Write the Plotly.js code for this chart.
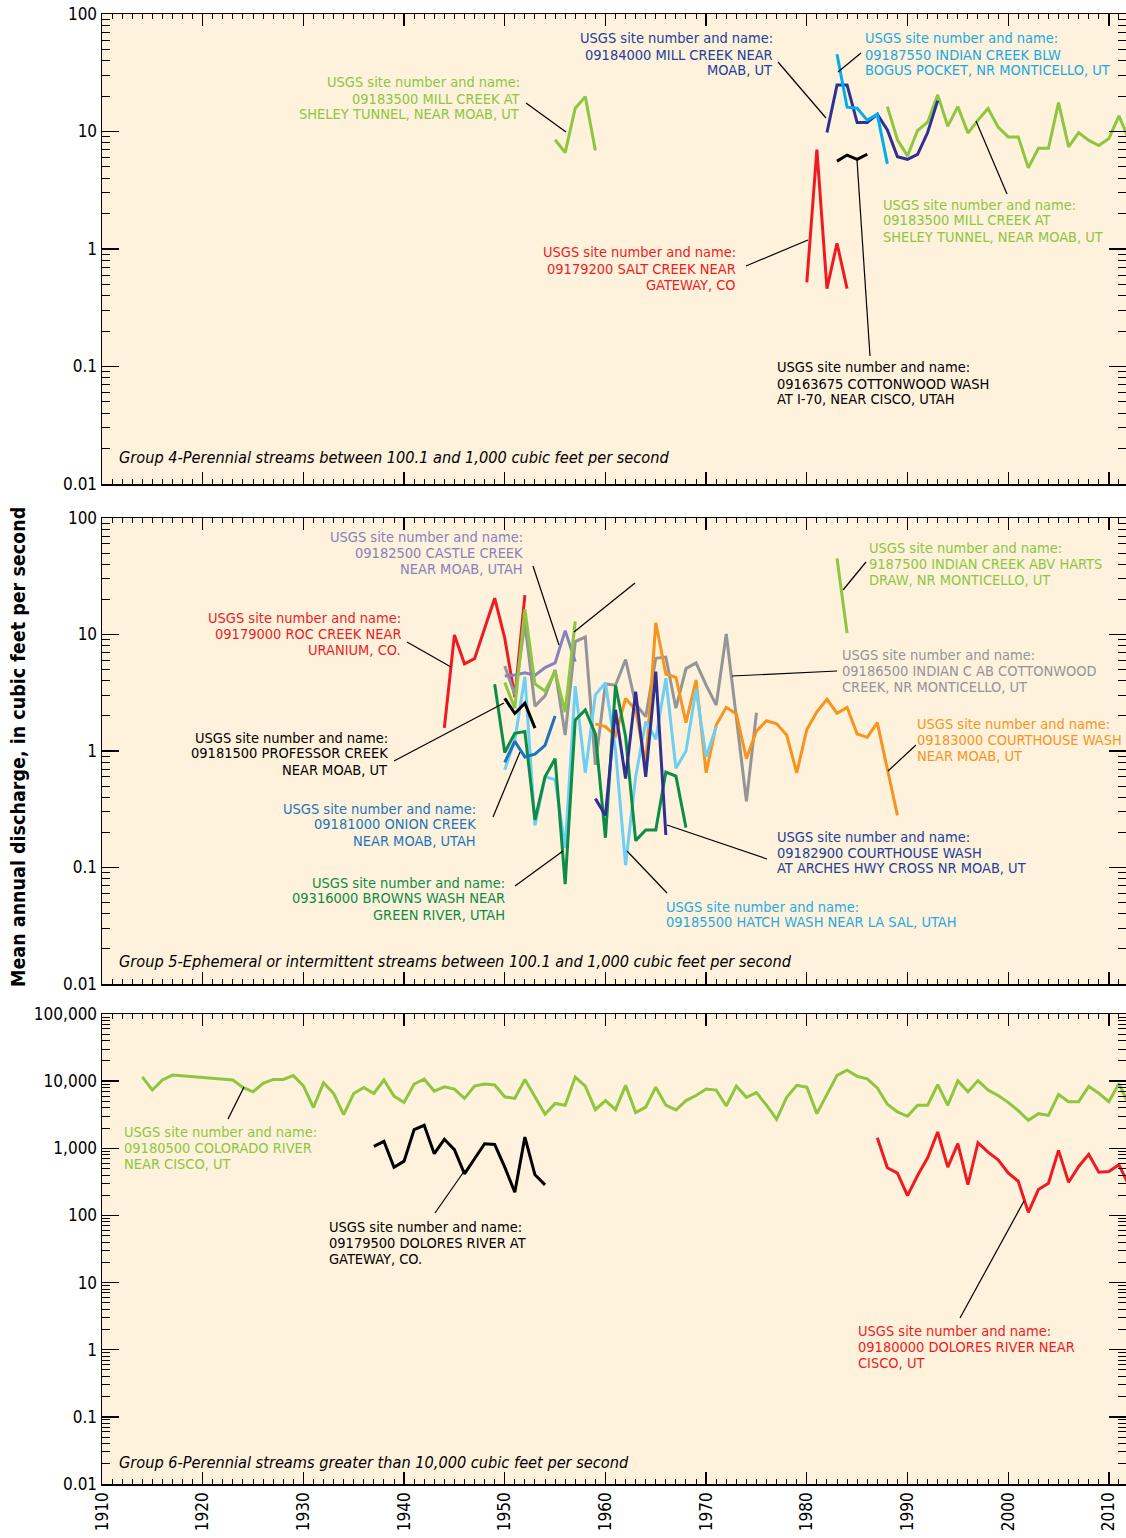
<!DOCTYPE html>
<html><head><meta charset="utf-8">
<script src="https://cdn.plot.ly/plotly-3.0.1.min.js"></script>
<style>html,body{margin:0;padding:0;background:#fff}#chart{width:1126px;height:1538px}</style>
</head><body><div id="chart"></div>
<script>
// ---------------- DATA ----------------
// Group 4 (top panel)
const millSheleyEarlyYears = [1955,1956,1957,1958,1959];
const millSheleyEarlyQ     = [8.5,6.6,15.8,19.8,6.9];
const millSheleyLateYears  = [1988,1989,1990,1991,1992,1993,1994,1995,1996,1997,1998,1999,2000,2001,2002,2003,2004,2005,2006,2007,2008,2009,2010,2011,2012];
const millSheleyLateQ      = [16.3,8.5,6.2,10.2,12.0,20.5,11.1,16.3,9.7,12.5,15.7,10.9,9.0,9.0,4.9,7.2,7.2,17.6,7.4,9.8,8.4,7.6,8.7,13.6,8.5];
const millMoabYears = [1982,1983,1984,1985,1986,1987,1988,1989,1990,1991,1992,1993];
const millMoabQ     = [9.8,24.9,24.9,11.9,11.9,14.0,10.3,6.1,5.8,6.4,9.8,18.3];
const indianBogusYears = [1983,1984,1985,1986,1987,1988];
const indianBogusQ     = [45.4,16.1,15.8,12.5,14.0,5.3];
const cottonwoodYears = [1983,1984,1985,1986];
const cottonwoodQ     = [5.6,6.3,5.8,6.4];
const saltCreekYears = [1980,1981,1982,1983,1984];
const saltCreekQ     = [0.52,7.0,0.46,1.12,0.46];

// Group 5 (middle panel)
const rocCreekYears = [1944,1945,1946,1947,1949,1950,1951,1952];
const rocCreekQ     = [1.58,9.9,5.6,6.2,20.5,9.3,2.9,21.8];
const professorYears = [1950,1951,1952,1953];
const professorQ     = [2.83,2.1,2.57,1.57];
const castleYears = [1950,1951,1952,1953,1954,1955,1956,1957];
const castleQ     = [4.4,4.5,4.7,4.45,5.2,5.7,10.8,5.85];
const greenUnlabeledYears = [1950,1951,1952,1953,1954,1955,1956,1957];
const greenUnlabeledQ     = [3.86,2.33,16.5,3.76,3.27,4.83,2.16,13.0];
const indianCottonwoodYears = [1950,1951,1952,1953,1954,1955,1956,1957,1958,1959,1960,1961,1962,1963,1964,1965,1966,1967,1968,1969,1970,1971,1972,1973,1974,1975];
const indianCottonwoodQ     = [5.37,3.03,12.5,2.43,2.97,4.96,1.37,8.7,9.5,0.76,3.76,3.67,6.1,2.53,1.97,6.25,6.4,2.33,5.1,5.7,3.67,2.48,10.1,1.85,0.37,2.13];
const courthouseYears = [1959,1960,1961,1962,1963,1964,1965,1966,1967,1968,1969,1970,1971,1972,1973,1974,1975,1976,1977,1978,1979,1980,1981,1982,1983,1984,1985,1986,1987,1989];
const courthouseQ     = [1.71,1.62,1.35,2.83,2.25,0.77,12.6,4.58,4.29,1.75,4.07,0.65,1.67,2.37,2.08,0.86,1.49,1.82,1.71,1.37,0.65,1.53,2.17,2.78,2.11,2.37,1.40,1.31,1.75,0.28];
const hatchYears = [1950,1951,1952,1953,1954,1955,1956,1957,1958,1959,1960,1961,1962,1963,1964,1965,1966,1967,1968,1969,1970,1971];
const hatchQ     = [0.69,1.24,4.34,0.23,0.60,0.57,0.147,3.61,0.65,3.03,3.86,1.02,0.105,0.60,1.79,1.26,4.21,0.71,1.0,3.40,0.89,1.62];
const brownsYears = [1949,1950,1951,1952,1953,1954,1955,1956,1957,1958,1959,1960,1961,1962,1963,1964,1965,1966,1967,1968];
const brownsQ     = [3.74,0.97,1.42,1.47,0.256,0.60,0.86,0.072,1.85,2.25,1.40,0.18,3.67,1.33,0.17,0.21,0.21,0.66,0.61,0.22];
const onionYears = [1950,1951,1952,1953,1954,1955];
const onionQ     = [0.80,1.21,0.89,0.94,1.12,2.0];
const archesYears = [1959,1960,1961,1962,1963,1964,1965,1966];
const archesQ     = [0.39,0.28,2.25,0.58,3.23,0.60,4.8,0.19];
const hartsYears = [1983,1984];
const hartsQ     = [45,10.3];

// Group 6 (bottom panel)
const coloradoYears = [1914,1915,1916,1917,1923,1924,1925,1926,1927,1928,1929,1930,1931,1932,1933,1934,1935,1936,1937,1938,1939,1940,1941,1942,1943,1944,1945,1946,1947,1948,1949,1950,1951,1952,1953,1954,1955,
 1956,1957,1958,1959,1960,1961,1962,1963,1964,1965,1966,1967,1968,1969,1970,1971,1972,1973,1974,1975,1976,1977,1978,1979,1980,1981,1982,1983,1984,1985,1986,1987,1988,1989,1990,1991,1992,1993,1994,1995,1996,1997,1998,1999,2000,2001,2002,2003,2004,2005,2006,2007,2008,2009,2010,2011,2012];
const coloradoQ = [11600,7360,10400,12300,10400,8070,6940,9270,10600,10600,12100,8530,4050,9460,6560,3180,6560,8070,6560,10400,5980,4820,9060,10700,7110,8240,7620,5530,8450,9060,8750,5840,5530,10600,5840,3220,4650,
 4380,11500,8450,3760,5140,3760,8650,3410,4110,8130,4380,3720,5140,6110,7640,7360,4270,8450,5740,6750,4380,2700,5740,8650,8130,3280,6340,12200,14600,11800,10800,7940,4540,3490,3000,4380,4380,8890,4380,10100,6920,10200,7360,6110,4830,3630,2600,3280,3090,6340,4950,4950,8340,6590,4950,9200,4400];
const doloresGatewayYears = [1937,1938,1939,1940,1941,1942,1943,1944,1945,1946,1947,1948,1949,1950,1951,1952,1953,1954];
const doloresGatewayQ     = [1070,1270,523,643,1900,2200,830,1360,953,417,698,1170,1140,523,221,1470,403,285];
const doloresCiscoYears = [1987,1988,1989,1990,1991,1992,1993,1994,1995,1996,1997,1998,1999,2000,2001,2002,2003,2004,2005,2006,2007,2008,2009,2010,2011,2012];
const doloresCiscoQ     = [1440,513,426,197,393,723,1750,523,1170,288,1210,877,675,431,323,111,243,301,931,312,536,811,441,451,568,278];

// tick labels
const yTickVals12 = [0.01,0.1,1,10,100];
const yTickText12 = ['0.01','0.1','1','10','100'];
const yTickVals3 = [0.01,0.1,1,10,100,1000,10000,100000];
const yTickText3 = ['0.01','0.1','1','10','100','1,000','10,000','100,000'];

// ---------------- STYLE / LAYOUT ----------------
const F = 'Liberation Sans Narrow, Arial Narrow, DejaVu Sans Condensed, sans-serif';
const C = {
  lgreen:'#8DC63F', red:'#ED1C24', navy:'#2E3192', cyan:'#00AEEF', black:'#000000',
  lav:'#8781BD', gray:'#939598', orange:'#F7941D', sky:'#6DCFF6', dgreen:'#0D8C45', blue:'#1C75BC',
  navyText:'#21409A', cyanText:'#1BA9E1', skyText:'#27AAE1'
};
const Lp=102, Rp=1126, Tp=14, Bp=1484;
const px = x => (x-Lp)/(Rp-Lp);
const py = y => (Bp-y)/(Bp-Tp);

function tr(x, y, color, n){
  const s = n===1 ? '' : String(n);
  return {x, y, type:'scatter', mode:'lines', line:{color, width:3}, xaxis:'x'+s, yaxis:'y'+s, hoverinfo:'skip', showlegend:false};
}
const data = [
  tr(millSheleyEarlyYears, millSheleyEarlyQ, C.lgreen, 1),
  tr(millSheleyLateYears, millSheleyLateQ, C.lgreen, 1),
  tr(millMoabYears, millMoabQ, C.navy, 1),
  tr(indianBogusYears, indianBogusQ, C.cyan, 1),
  tr(cottonwoodYears, cottonwoodQ, C.black, 1),
  tr(saltCreekYears, saltCreekQ, C.red, 1),

  tr(rocCreekYears, rocCreekQ, C.red, 2),
  tr(indianCottonwoodYears, indianCottonwoodQ, C.gray, 2),
  tr(courthouseYears, courthouseQ, C.orange, 2),
  tr(castleYears, castleQ, C.lav, 2),
  tr(greenUnlabeledYears, greenUnlabeledQ, C.lgreen, 2),
  tr(hatchYears, hatchQ, C.sky, 2),
  tr(brownsYears, brownsQ, C.dgreen, 2),
  tr(archesYears, archesQ, C.navy, 2),
  tr(onionYears, onionQ, C.blue, 2),
  tr(professorYears, professorQ, C.black, 2),
  tr(hartsYears, hartsQ, C.lgreen, 2),

  tr(coloradoYears, coloradoQ, C.lgreen, 3),
  tr(doloresGatewayYears, doloresGatewayQ, C.black, 3),
  tr(doloresCiscoYears, doloresCiscoQ, C.red, 3)
];

const tickFont = {family:F, size:17, color:'#000'};
function xax(anchor, labels){
  return {anchor, range:[1910,2011.7], showgrid:false, zeroline:false, showline:true, linecolor:'#000', linewidth:1.5,
    mirror:'ticks', ticks:'inside', ticklen:12, tickwidth:1.3, tickcolor:'#000', tickmode:'linear', tick0:1910, dtick:10,
    showticklabels:labels, tickangle:-90, tickfont:tickFont, fixedrange:true,
    minor:{ticks:'inside', ticklen:5, tickwidth:1, tickcolor:'#000', tick0:1910, dtick:1, showgrid:false}};
}
function yax(domain, anchor, range, vals, text){
  return {type:'log', domain, anchor, range, showgrid:false, zeroline:false, showline:true, linecolor:'#000', linewidth:1.5,
    mirror:'ticks', ticks:'inside', ticklen:17, tickwidth:1.3, tickcolor:'#000', tickmode:'array', tickvals:vals, ticktext:text,
    tickfont:tickFont, fixedrange:true,
    minor:{ticks:'inside', ticklen:8, tickwidth:1, tickcolor:'#000', dtick:'D1', showgrid:false}};
}

const ann = [];
const shapes = [];
function label(lines, x, y0, color, anchor){
  lines.forEach((t,i)=>ann.push({xref:'paper', yref:'paper', x:px(x), y:py(y0+i*16), text:t, showarrow:false,
    xanchor:anchor, yanchor:'middle', height:15, borderpad:0, font:{family:F, size:14.5, color}}));
}
function leader(x0,y0,x1,y1){
  shapes.push({type:'line', xref:'paper', yref:'paper', x0:px(x0), y0:py(y0), x1:px(x1), y1:py(y1), line:{color:'#000', width:1.2}});
}
function group(text, y){
  ann.push({xref:'paper', yref:'paper', x:px(117), y:py(y), text, showarrow:false, xanchor:'left', yanchor:'middle',
    font:{family:F, size:16.2, color:'#000', style:'italic'}});
}
const H1 = 'USGS site number and name:';
// Panel 1
label([H1,'09184000 MILL CREEK NEAR','MOAB, UT'], 774, 38, C.navyText, 'right');
label([H1,'09187550 INDIAN CREEK BLW','BOGUS POCKET, NR MONTICELLO, UT'], 864, 38, C.cyanText, 'left');
label([H1,'09183500 MILL CREEK AT','SHELEY TUNNEL, NEAR MOAB, UT'], 521, 82, C.lgreen, 'right');
label([H1,'09183500 MILL CREEK AT','SHELEY TUNNEL, NEAR MOAB, UT'], 882, 204, C.lgreen, 'left');
label([H1,'09179200 SALT CREEK NEAR','GATEWAY, CO'], 737, 252, C.red, 'right');
label([H1,'09163675 COTTONWOOD WASH','AT I-70, NEAR CISCO, UTAH'], 776, 367, C.black, 'left');
leader(778,62,826,118);
leader(861,53,838,72);
leader(526,103,566,132);
leader(976,121,1007,194);
leader(746,266,808,240);
leader(857,160,870,356);
group('Group 4-Perennial streams between 100.1 and 1,000 cubic feet per second', 458);
// Panel 2
label([H1,'09182500 CASTLE CREEK','NEAR MOAB, UTAH'], 524, 536, C.lav, 'right');
label([H1,'9187500 INDIAN CREEK ABV HARTS','DRAW, NR MONTICELLO, UT'], 868, 547, C.lgreen, 'left');
label([H1,'09179000 ROC CREEK NEAR','URANIUM, CO.'], 402, 617, C.red, 'right');
label([H1,'09186500 INDIAN C AB COTTONWOOD','CREEK, NR MONTICELLO, UT'], 841, 654, C.gray, 'left');
label([H1,'09183000 COURTHOUSE WASH','NEAR MOAB, UT'], 916, 723, C.orange, 'left');
label([H1,'09181500 PROFESSOR CREEK','NEAR MOAB, UT'], 389, 737, C.black, 'right');
label([H1,'09181000 ONION CREEK','NEAR MOAB, UTAH'], 477, 808, C.blue, 'right');
label([H1,'09182900 COURTHOUSE WASH','AT ARCHES HWY CROSS NR MOAB, UT'], 776, 836, C.navyText, 'left');
label([H1,'09316000 BROWNS WASH NEAR','GREEN RIVER, UTAH'], 506, 882, C.dgreen, 'right');
label([H1,'09185500 HATCH WASH NEAR LA SAL, UTAH'], 665, 906, C.skyText, 'left');
leader(533,566,559,645);
leader(866,562,843,590);
leader(407,642,451,667);
leader(635,583,574,632);
leader(732,676,837,671);
leader(888,771,916,745);
leader(394,761,504,703);
leader(493,817,520,752);
leader(667,825,767,859);
leader(515,886,563,851);
leader(627,851,667,893);
group('Group 5-Ephemeral or intermittent streams between 100.1 and 1,000 cubic feet per second', 962);
// Panel 3
label([H1,'09180500 COLORADO RIVER','NEAR CISCO, UT'], 123, 1131, C.lgreen, 'left');
label([H1,'09179500 DOLORES RIVER AT','GATEWAY, CO.'], 328, 1226, C.black, 'left');
label([H1,'09180000 DOLORES RIVER NEAR','CISCO, UT'], 857, 1330, C.red, 'left');
leader(228,1119,244,1087);
leader(435,1213,465,1170);
leader(960,1318,1024,1201);
group('Group 6-Perennial streams greater than 10,000 cubic feet per second', 1462);
// Y title
ann.push({xref:'paper', yref:'paper', x:px(18), y:py(747), text:'<b>Mean annual discharge, in cubic feet per second</b>',
  showarrow:false, textangle:-90, xanchor:'center', yanchor:'middle', font:{family:F, size:19.5, color:'#000'}});

const layout = {
  width:1126, height:1538, margin:{l:Lp, r:1126-Rp, t:Tp, b:1538-Bp},
  paper_bgcolor:'#ffffff', plot_bgcolor:'#FEF2DC', showlegend:false,
  xaxis: xax('y', false),
  yaxis: yax([py(484), py(14)], 'x', [-2,2], yTickVals12, yTickText12),
  xaxis2: Object.assign(xax('y2', false), {matches:'x'}),
  yaxis2: yax([py(984), py(518)], 'x2', [-2,2], yTickVals12, yTickText12),
  xaxis3: Object.assign(xax('y3', true), {matches:'x'}),
  yaxis3: yax([0, py(1014)], 'x3', [-2,5], yTickVals3, yTickText3),
  annotations: ann, shapes
};
Plotly.newPlot('chart', data, layout, {staticPlot:true, displayModeBar:false});
</script></body></html>
